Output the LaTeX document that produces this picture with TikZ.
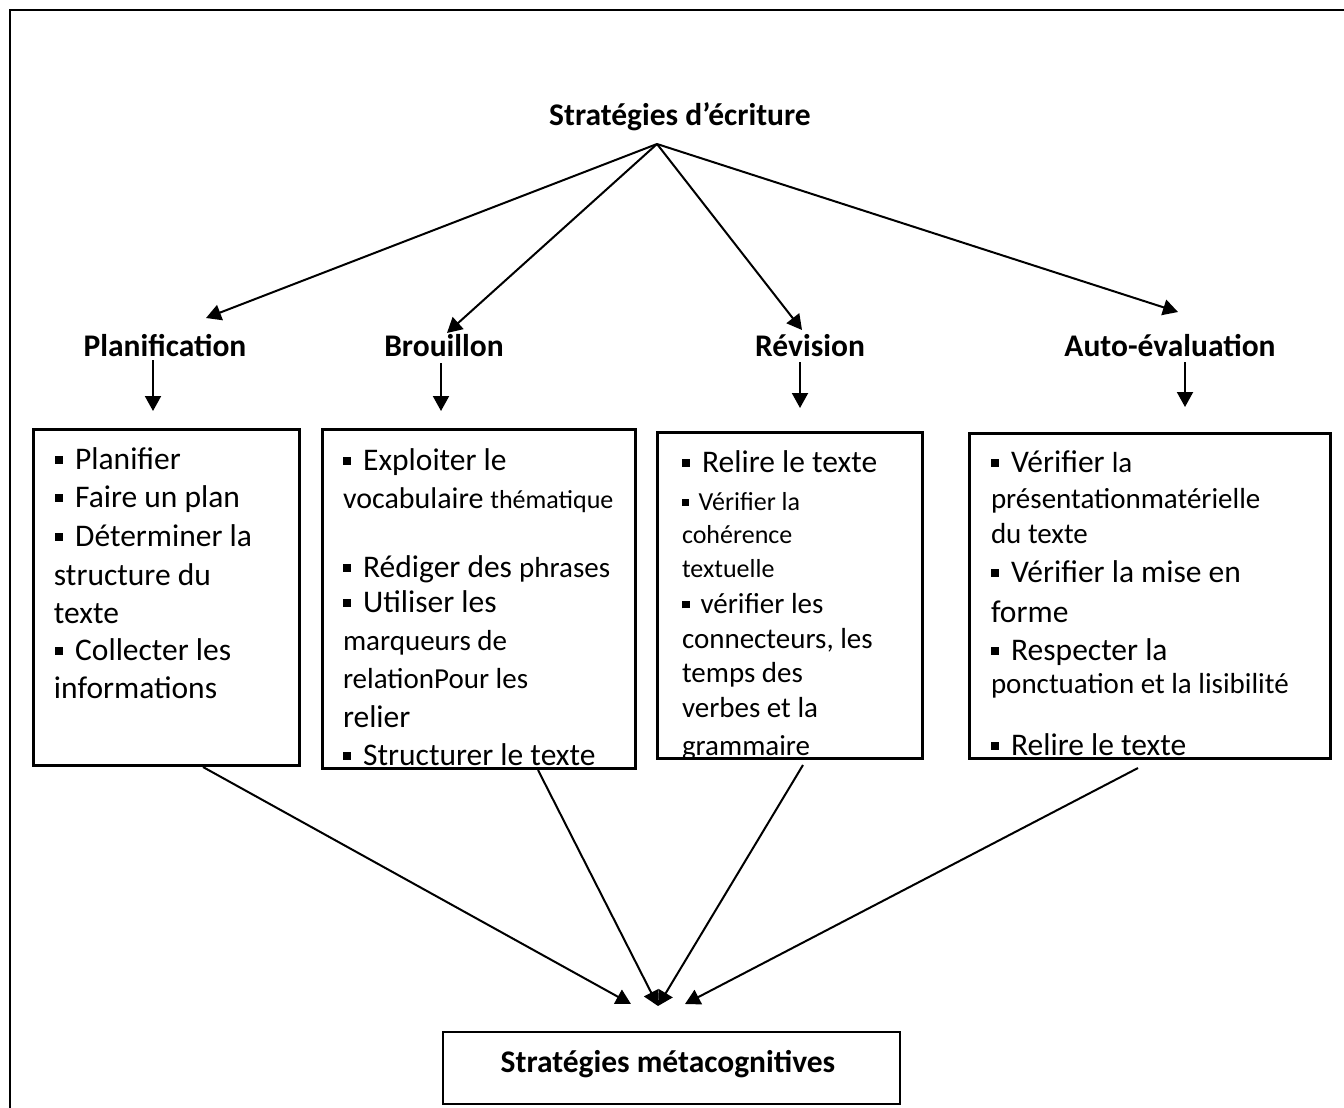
\documentclass[tikz,border=0pt]{standalone}
\usepackage{fontspec}
\setmainfont{Carlito}
\usetikzlibrary{arrows.meta}
\newcommand{\fA}{\fontsize{15.75pt}{18pt}\selectfont}
\newcommand{\fB}{\fontsize{14.5pt}{17pt}\selectfont}
\newcommand{\fC}{\fontsize{13pt}{15pt}\selectfont}
\newcommand{\fV}{\fontsize{15pt}{17pt}\selectfont}
\newcommand{\bul}{\raisebox{0.16em}{\rule{0.26em}{0.26em}}\hspace{0.38em}}
\tikzset{
  tl/.style={anchor=base west, inner sep=0pt, outer sep=0pt},
  hd/.style={anchor=base, inner sep=0pt, font=\fA\bfseries},
  boxs/.style={draw, line width=1pt, inner sep=0pt, anchor=north west},
  arr/.style={line width=1pt, -{Triangle[length=7.5pt,width=8pt]}},
  frame/.style={line width=1.2pt},
}
\begin{document}
\begin{tikzpicture}[x=0.5pt,y=-0.5pt]
\useasboundingbox (0,0) rectangle (1344,1108);
\fill[white] (0,0) rectangle (1344,1108);
% outer frame (top and left edges visible)
\draw[frame] (10,1108) -- (10,10) -- (1344,10);

% title and headings
\node[hd] (title) at (680,125) {Stratégies d’écriture};
\node[hd] (h1) at (165,356) {Planification};
\node[hd] (h2) at (444,356) {Brouillon};
\node[hd] (h3) at (810,356) {Révision};
\node[hd] (h4) at (1170,356) {Auto-évaluation};

% boxes (outlines)
\node[boxs, minimum width=132.5pt, minimum height=167.5pt] (b1) at (33,429) {};
\node[boxs, minimum width=156pt, minimum height=169pt] (b2) at (322,429) {};
\node[boxs, minimum width=132pt, minimum height=162.5pt] (b3) at (657,432) {};
\node[boxs, minimum width=180pt, minimum height=162pt] (b4) at (969,433) {};
\node[boxs, minimum width=228.5pt, minimum height=36pt] (bm) at (442,1031) {};
\node[hd] (mt) at (668,1072) {Stratégies métacognitives};

% box 1 text
\begin{scope}
\clip (b1.south west) rectangle (b1.north east);
\node[tl] (b1a) at (55,469) {\fA\bul Planifier};
\node[tl] (b1b) at (55,507) {\fA\bul Faire un plan};
\node[tl] (b1c) at (55,546) {\fA\bul Déterminer la};
\node[tl] (b1d) at (54,585) {\fA structure du};
\node[tl] (b1e) at (54,623) {\fA texte};
\node[tl] (b1f) at (55,660) {\fA\bul Collecter les};
\node[tl] (b1g) at (54,698) {\fA informations};
\end{scope}

% box 2 text
\begin{scope}
\clip (b2.south west) rectangle (b2.north east);
\node[tl] (b2a) at (343,470) {\fA\bul Exploiter le};
\node[tl] (b2b) at (343,508) {\fV vocabulaire {\fC thématique}};
\node[tl] (b2c) at (343,577) {\fA\bul Rédiger des {\fB phrases}};
\node[tl] (b2d) at (343,612) {\fA\bul Utiliser les};
\node[tl] (b2e) at (343,650) {\fB marqueurs de};
\node[tl] (b2f) at (343,688) {\fB relationPour les};
\node[tl] (b2g) at (343,727) {\fA relier};
\node[tl] (b2h) at (343,765) {\fA\bul Structurer le texte};
\end{scope}

% box 3 text
\begin{scope}
\clip (b3.south west) rectangle (b3.north east);
\node[tl] (b3a) at (682,472) {\fA\bul Relire le texte};
\node[tl] (b3b) at (682,510) {\fC\bul Vérifier la};
\node[tl] (b3c) at (682,543) {\fC cohérence};
\node[tl] (b3d) at (682,577) {\fC textuelle};
\node[tl] (b3e) at (682,613) {\fB\bul vérifier les};
\node[tl] (b3f) at (682,648) {\fB connecteurs, les};
\node[tl] (b3g) at (682,682) {\fB temps des};
\node[tl] (b3h) at (682,717) {\fB verbes et la};
\node[tl] (b3i) at (682,755) {\fB grammaire};
\end{scope}

% box 4 text
\begin{scope}
\clip (b4.south west) rectangle (b4.north east);
\node[tl] (b4a) at (991,472) {\fA\bul Vérifier {\fB la}};
\node[tl] (b4b) at (991,508) {\fB présentationmatérielle};
\node[tl] (b4c) at (991,543) {\fB du texte};
\node[tl] (b4d) at (991,582) {\fA\bul Vérifier la mise en};
\node[tl] (b4e) at (991,622) {\fA forme};
\node[tl] (b4f) at (991,660) {\fA\bul Respecter la};
\node[tl] (b4g) at (991,693) {\fB ponctuation et la lisibilité};
\node[tl] (b4h) at (991,755) {\fA\bul Relire le texte};
\end{scope}

% redraw box outlines over the text
\draw[line width=1pt] (b1.south west) rectangle (b1.north east);
\draw[line width=1pt] (b2.south west) rectangle (b2.north east);
\draw[line width=1pt] (b3.south west) rectangle (b3.north east);
\draw[line width=1pt] (b4.south west) rectangle (b4.north east);

% top connectors
\coordinate (apex) at (657,144);
\coordinate (tp1) at (206,318);
\coordinate (tp2) at (447,333);
\coordinate (tp3) at (802,330);
\coordinate (tp4) at (1178,312);
\draw[arr] (apex) -- (tp1);
\draw[arr] (apex) -- (tp2);
\draw[arr] (apex) -- (tp3);
\draw[arr] (apex) -- (tp4);

% down arrows
\coordinate (d1s) at (153,360); \coordinate (d1e) at (153,411);
\coordinate (d2s) at (441,363); \coordinate (d2e) at (441,411);
\coordinate (d3s) at (800,362); \coordinate (d3e) at (800,408);
\coordinate (d4s) at (1185,362); \coordinate (d4e) at (1185,407);
\draw[arr] (d1s) -- (d1e);
\draw[arr] (d2s) -- (d2e);
\draw[arr] (d3s) -- (d3e);
\draw[arr] (d4s) -- (d4e);

% lower connectors
\coordinate (s1) at (203,767);
\coordinate (s2) at (538,770);
\coordinate (s3) at (803,765);
\coordinate (s4) at (1138,768);
\coordinate (e1) at (631,1004);
\coordinate (em) at (658,1006);
\coordinate (e4) at (685,1004);
\draw[arr] (s1) -- (e1);
\draw[arr] (s2) -- (em);
\draw[arr] (s3) -- (em);
\draw[arr] (s4) -- (e4);
\end{tikzpicture}
\end{document}
